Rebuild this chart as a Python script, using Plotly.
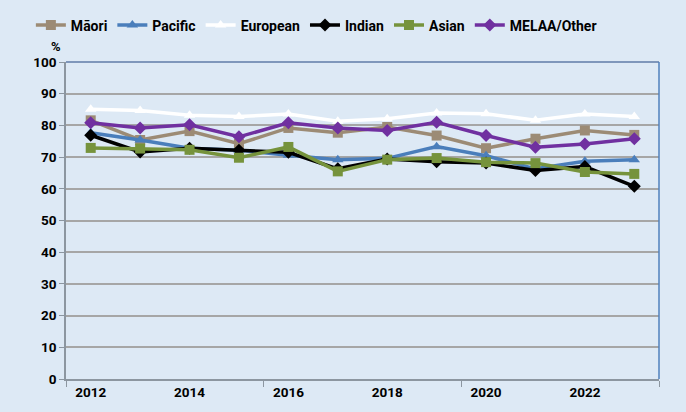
import plotly.graph_objects as go

years = [2012, 2013, 2014, 2015, 2016, 2017, 2018, 2019, 2020, 2021, 2022, 2023]
year_labels = ["2012", "2014", "2016", "2018", "2020", "2022"]

maori = [81.6, 75.4, 78.2, 74.2, 79.2, 77.7, 79.5, 76.8, 72.8, 75.8, 78.4, 77.0]
pacific = [77.7, 75.4, 72.8, 72.2, 70.6, 69.2, 69.6, 73.3, 70.4, 66.3, 68.7, 69.2]
european = [85.1, 84.7, 83.2, 82.8, 83.6, 81.3, 82.1, 83.9, 83.7, 81.6, 83.6, 82.8]
indian = [76.9, 71.6, 72.8, 72.2, 71.5, 66.3, 69.4, 68.5, 68.1, 65.8, 67.0, 60.8]
asian = [72.9, 72.7, 72.3, 69.8, 73.2, 65.5, 69.2, 69.7, 68.4, 68.1, 65.3, 64.7]
melaa = [80.8, 79.2, 80.2, 76.4, 80.8, 79.2, 78.4, 81.0, 76.8, 73.1, 74.1, 75.8]

BG = "#dde9f5"
FONT = "Roboto, Arial, sans-serif"

series = [
    ("Māori", maori, "#9c8b75", "square"),
    ("Pacific", pacific, "#4a7ebb", "triangle-up"),
    ("European", european, "#ffffff", "triangle-up"),
    ("Indian", indian, "#000000", "diamond"),
    ("Asian", asian, "#76933c", "square"),
    ("MELAA/Other", melaa, "#7030a0", "diamond"),
]

fig = go.Figure()
for name, vals, color, symbol in series:
    fig.add_trace(go.Scatter(
        x=years, y=vals, name=name, mode="lines+markers",
        line=dict(color=color, width=3.5),
        marker=dict(symbol=symbol, size=10, color=color),
    ))

fig.update_layout(
    width=686, height=412,
    paper_bgcolor=BG, plot_bgcolor=BG,
    margin=dict(l=66, r=27, t=62, b=30),
    font=dict(family=FONT, size=13, color="#000000", weight="bold"),
    legend=dict(
        orientation="h", xref="container", yref="container",
        x=0.045, y=0.977, xanchor="left", yanchor="top",
        font=dict(size=14, weight="bold"), bgcolor="rgba(0,0,0,0)",
        itemwidth=30, tracegroupgap=0,
    ),
    xaxis=dict(
        range=[2011.5, 2023.5], tickmode="array",
        tickvals=[int(y) for y in year_labels], ticktext=year_labels,
        ticks="", showgrid=False, zeroline=False,
        showline=True, linecolor="#8c96a0", linewidth=2,
        minor=dict(tickmode="linear", tick0=2011.5, dtick=4,
                   ticks="outside", ticklen=6, tickcolor="#8c96a0", showgrid=False),
        tickfont=dict(size=13.5, weight="bold"),
    ),
    yaxis=dict(
        range=[0, 100], dtick=10, showgrid=True, gridcolor="#a6a6a6", gridwidth=2,
        zeroline=False, showline=True, linecolor="#8c96a0", linewidth=1.5,
        ticks="outside", ticklen=5, tickcolor="#8c96a0",
        tickfont=dict(size=13.5, weight="bold"),
    ),
    annotations=[dict(
        text="%", xref="paper", yref="paper", x=-0.005, y=1.0,
        xanchor="right", yanchor="bottom", yshift=6, showarrow=False,
        font=dict(size=13, weight="bold"),
    )],
    shapes=[
        dict(type="line", xref="paper", yref="paper", x0=0, x1=1, y0=1, y1=1,
             line=dict(color="#7f97bb", width=2)),
        dict(type="line", xref="paper", yref="paper", x0=1, x1=1, y0=0, y1=1,
             line=dict(color="#4f81bd", width=1.5)),
    ],
)

fig.write_html("out.html", config={"displayModeBar": False},
               post_script="document.body.style.margin='0';")
